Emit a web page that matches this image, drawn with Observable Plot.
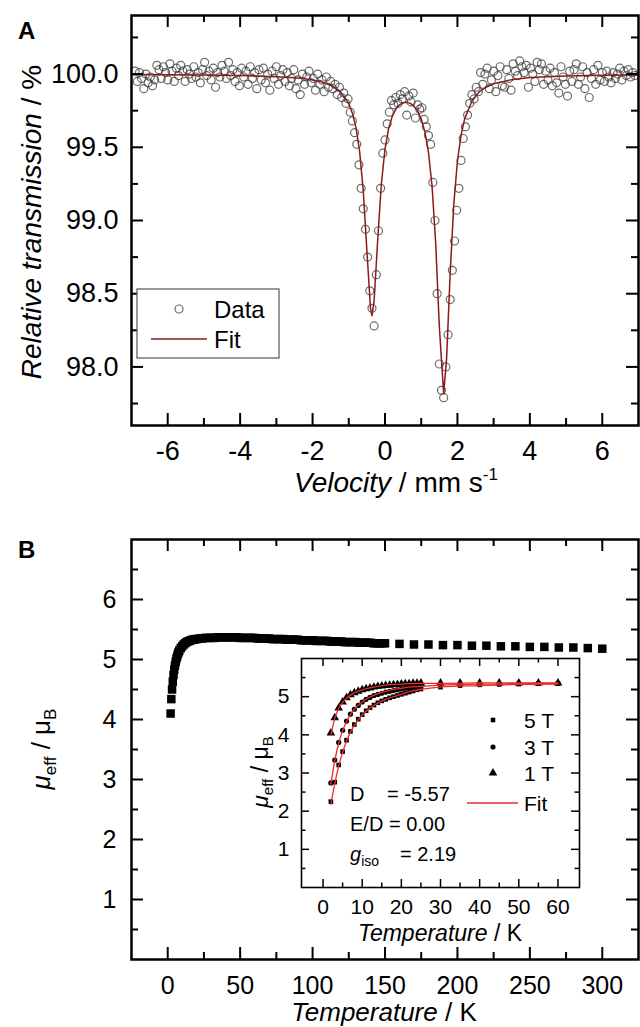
<!DOCTYPE html>
<html><head><meta charset="utf-8">
<script src="https://cdn.jsdelivr.net/npm/d3@7"></script>
<script src="https://cdn.jsdelivr.net/npm/@observablehq/plot@0.6"></script>
<style>
body{margin:0;background:#fff;}
#wrap{position:relative;width:640px;height:1027px;overflow:hidden;}
#wrap svg{position:absolute;left:0;}
</style></head><body><div id="wrap"></div>
<script>
const FONT = "Liberation Sans, Arial, sans-serif";

// ---------- Panel A: Mössbauer spectrum ----------
const velocity = [
-6.90,-6.84,-6.78,-6.72,-6.66,-6.60,-6.54,-6.48,-6.42,-6.36,
-6.30,-6.24,-6.18,-6.12,-6.06,-6.00,-5.94,-5.88,-5.82,-5.76,
-5.70,-5.64,-5.58,-5.52,-5.46,-5.40,-5.34,-5.28,-5.22,-5.16,
-5.10,-5.04,-4.98,-4.92,-4.86,-4.80,-4.74,-4.68,-4.62,-4.56,
-4.50,-4.44,-4.38,-4.32,-4.26,-4.20,-4.14,-4.08,-4.02,-3.96,
-3.90,-3.84,-3.78,-3.72,-3.66,-3.60,-3.54,-3.48,-3.42,-3.36,
-3.30,-3.24,-3.18,-3.12,-3.06,-3.00,-2.94,-2.88,-2.82,-2.76,
-2.70,-2.64,-2.58,-2.52,-2.46,-2.40,-2.34,-2.28,-2.22,-2.16,
-2.10,-2.04,-1.98,-1.92,-1.86,-1.80,-1.74,-1.68,-1.62,-1.56,
-1.50,-1.44,-1.38,-1.32,-1.26,-1.20,-1.14,-1.08,-1.02,-0.96,
-0.90,-0.84,-0.78,-0.72,-0.66,-0.60,-0.54,-0.48,-0.42,-0.36,
-0.30,-0.24,-0.18,-0.12,-0.06,0.00,0.06,0.12,0.18,0.24,
0.30,0.36,0.42,0.48,0.54,0.60,0.66,0.72,0.78,0.84,
0.90,0.96,1.02,1.08,1.14,1.20,1.26,1.32,1.38,1.44,
1.50,1.56,1.62,1.68,1.74,1.80,1.86,1.92,1.98,2.04,
2.10,2.16,2.22,2.28,2.34,2.40,2.46,2.52,2.58,2.64,
2.70,2.76,2.82,2.88,2.94,3.00,3.06,3.12,3.18,3.24,
3.30,3.36,3.42,3.48,3.54,3.60,3.66,3.72,3.78,3.84,
3.90,3.96,4.02,4.08,4.14,4.20,4.26,4.32,4.38,4.44,
4.50,4.56,4.62,4.68,4.74,4.80,4.86,4.92,4.98,5.04,
5.10,5.16,5.22,5.28,5.34,5.40,5.46,5.52,5.58,5.64,
5.70,5.76,5.82,5.88,5.94,6.00,6.06,6.12,6.18,6.24,
6.30,6.36,6.42,6.48,6.54,6.60,6.66,6.72,6.78,6.84,
6.90];
const transmission = [
100.02,99.95,100.01,99.97,99.90,100.00,99.94,99.98,99.92,99.96,
100.06,100.03,99.97,100.05,100.01,99.96,100.07,100.02,99.95,100.04,
99.99,100.06,100.02,99.95,100.03,100.00,99.97,100.05,99.98,100.01,
99.94,100.03,100.08,99.99,100.02,99.96,100.04,99.91,100.01,99.98,
100.06,100.02,99.97,100.08,99.99,100.03,99.95,100.01,99.92,100.04,
99.98,100.02,99.93,100.05,99.97,100.01,99.90,100.03,99.96,100.04,
99.94,100.00,99.89,100.02,99.97,100.05,99.93,99.99,100.03,99.95,
100.01,99.92,99.97,100.03,99.90,99.96,99.86,100.00,99.93,99.98,
100.02,99.94,99.97,99.89,100.00,99.93,99.96,99.88,99.98,99.91,
99.95,99.90,99.93,99.86,99.91,99.84,99.87,99.80,99.83,99.74,
99.68,99.60,99.52,99.38,99.22,99.08,98.94,98.75,98.52,98.40,
98.28,98.63,98.93,99.22,99.46,99.55,99.66,99.74,99.82,99.79,
99.84,99.80,99.86,99.83,99.88,99.72,99.85,99.81,99.87,99.70,
99.79,99.76,99.77,99.69,99.64,99.58,99.52,99.26,99.00,98.50,
98.02,97.84,97.79,98.00,98.22,98.46,98.66,98.86,99.07,99.22,
99.41,99.56,99.64,99.72,99.80,99.86,99.83,99.91,99.88,100.01,
99.93,100.00,100.04,99.90,99.96,100.02,99.88,99.99,100.05,99.92,
99.91,100.03,99.97,99.89,100.07,100.02,99.99,100.09,100.05,100.01,
100.06,99.91,100.04,100.00,99.95,100.08,100.03,100.07,99.93,100.02,
99.96,100.04,99.92,100.01,99.94,99.87,100.05,99.98,99.93,99.85,
100.02,99.95,100.03,100.07,99.93,99.98,100.05,99.90,100.01,99.84,
99.97,100.03,99.93,100.06,99.96,100.01,99.95,100.02,99.98,99.94,
100.01,99.97,100.00,100.04,99.96,100.02,99.99,100.03,99.98,100.01,
99.99];
const fitVelocity = [-7,-6,-5,-4,-3,-2.5,-2.25,-2,-1.75,-1.5,-1.25,-1,-0.9,-0.8,-0.7,-0.6,-0.5,-0.4,-0.36,-0.3,-0.2,-0.1,0,0.1,0.2,0.3,0.4,0.5,0.6,0.7,0.8,0.9,1.0,1.1,1.2,1.3,1.4,1.5,1.62,1.7,1.8,1.9,2.0,2.1,2.2,2.4,2.6,2.8,3.0,3.5,4,5,6,7];
const fitTransmission = [99.997,99.995,99.993,99.990,99.982,99.975,99.969,99.960,99.947,99.925,99.885,99.798,99.733,99.633,99.470,99.202,98.793,98.400,98.351,98.453,98.874,99.251,99.488,99.628,99.711,99.761,99.790,99.804,99.807,99.800,99.781,99.748,99.694,99.607,99.467,99.234,98.845,98.278,97.818,98.053,98.642,99.113,99.406,99.583,99.694,99.816,99.878,99.912,99.934,99.962,99.976,99.987,99.992,99.994];
const xTicksA = [-6,-4,-2,0,2,4,6];
const xMinorA = [-5,-3,-1,1,3,5];
const yTicksA = [98.0,98.5,99.0,99.5,100.0];
const yMinorA = [97.75,98.25,98.75,99.25,99.75,100.25];

// ---------- Panel B: mu_eff vs T ----------
const tempB = [2,2.5,3,3.5,4,4.5,5,5.5,6,6.5,7,7.5,8,9,10,11,12,13,14,15,16,17,18,19,20,22,24,26,28,30,32,34,36,38,40,42,44,46,48,50,52,54,56,58,60,62,64,66,68,70,72,74,76,78,80,82,84,86,88,90,92,94,96,98,100,102,104,106,108,110,112,114,116,118,120,122,124,126,128,130,132,134,136,138,140,142,144,146,148,150,160,170,180,190,200,210,220,230,240,250,260,270,280,290,300];
const muB = [4.10,4.34,4.50,4.63,4.74,4.83,4.90,4.96,5.01,5.05,5.09,5.12,5.15,5.19,5.22,5.25,5.27,5.29,5.30,5.31,5.32,5.33,5.33,5.34,5.34,5.35,5.35,5.36,5.36,5.36,5.36,5.37,5.37,5.37,5.37,5.37,5.37,5.37,5.37,5.36,5.36,5.36,5.36,5.36,5.36,5.35,5.35,5.35,5.35,5.35,5.34,5.34,5.34,5.34,5.34,5.33,5.33,5.33,5.33,5.33,5.32,5.32,5.32,5.32,5.32,5.31,5.31,5.31,5.31,5.31,5.30,5.30,5.30,5.30,5.30,5.29,5.29,5.29,5.29,5.29,5.28,5.28,5.28,5.28,5.28,5.27,5.27,5.27,5.27,5.27,5.26,5.25,5.25,5.24,5.24,5.23,5.23,5.22,5.22,5.21,5.21,5.20,5.20,5.19,5.18];
const xTicksB = [0,50,100,150,200,250,300];
const xMinorB = [25,75,125,175,225,275];
const yTicksB = [1,2,3,4,5,6];
const yMinorB = [0.5,1.5,2.5,3.5,4.5,5.5,6.5];

// ---------- Inset ----------
const tempInset = [2,3,4,5,6,7,8,9,10,11,12,13,14,15,16,17,18,19,20,21,22,23,24,25,30,35,40,45,50,55,60];
const mu5T = [2.25,2.76,3.21,3.56,3.86,4.09,4.27,4.41,4.53,4.63,4.71,4.78,4.84,4.89,4.93,4.97,5.00,5.03,5.06,5.09,5.12,5.15,5.18,5.20,5.25,5.29,5.31,5.32,5.33,5.34,5.34];
const mu3T = [2.74,3.34,3.80,4.12,4.36,4.54,4.67,4.77,4.86,4.93,4.98,5.03,5.06,5.09,5.12,5.14,5.16,5.18,5.20,5.22,5.23,5.25,5.26,5.27,5.30,5.32,5.33,5.34,5.35,5.35,5.35];
const mu1T = [4.05,4.45,4.70,4.86,4.97,5.05,5.10,5.14,5.18,5.21,5.23,5.25,5.27,5.28,5.29,5.30,5.31,5.32,5.33,5.34,5.34,5.35,5.35,5.36,5.36,5.36,5.36,5.36,5.36,5.36,5.36];
const tempFit = [2,3,4,5,6,7,8,10,12,14,16,18,20,22,25,30,40,50,60];
const fit5T = [2.18,2.72,3.18,3.54,3.84,4.07,4.25,4.52,4.70,4.83,4.93,5.00,5.06,5.13,5.19,5.25,5.29,5.32,5.33];
const fit3T = [2.70,3.32,3.78,4.11,4.35,4.53,4.67,4.86,4.99,5.08,5.14,5.19,5.22,5.25,5.27,5.30,5.33,5.34,5.35];
const fit1T = [3.98,4.43,4.69,4.85,4.96,5.04,5.10,5.18,5.23,5.27,5.30,5.32,5.33,5.34,5.35,5.35,5.36,5.36,5.36];
const xTicksIn = [0,10,20,30,40,50,60];
const xMinorIn = [5,15,25,35,45,55];
const yTicksIn = [1,2,3,4,5];
const yMinorIn = [0.5,1.5,2.5,3.5,4.5,5.5];
const fieldLabels = ["5 T","3 T","1 T"];
const fitParams = ["= -5.57","E/D = 0.00","= 2.19"];

// ---------- helpers ----------
function boxTicks(xs, ys, fw, fh, len, sw) {
  return [
    Plot.tickX(xs, {x: d => d, insetTop: fh - len, stroke: "#000", strokeWidth: sw}),
    Plot.tickX(xs, {x: d => d, insetBottom: fh - len, stroke: "#000", strokeWidth: sw}),
    Plot.tickY(ys, {y: d => d, insetRight: fw - len, stroke: "#000", strokeWidth: sw}),
    Plot.tickY(ys, {y: d => d, insetLeft: fw - len, stroke: "#000", strokeWidth: sw})
  ];
}
function txt(sel, x, y, size, opts = {}) {
  const t = sel.append("text").attr("x", x).attr("y", y)
    .style("font-family", FONT).style("font-size", size + "px").attr("fill", "#000")
    .attr("text-anchor", opts.anchor || "start");
  if (opts.rotate) t.attr("x", 0).attr("y", 0).attr("transform", `translate(${x},${y}) rotate(-90)`);
  if (opts.bold) t.style("font-weight", "bold");
  return t;
}
function span(t, s, o = {}) {
  const p = t.append("tspan").text(s);
  if (o.italic) p.style("font-style", "italic");
  if (o.size) p.style("font-size", o.size + "px");
  if (o.dy) p.attr("dy", o.dy);
  return p;
}
const wrap = document.getElementById("wrap");

// ---------- Plot A ----------
const mA = {l: 131, r: 2, t: 15, b: 75}, WA = 640, HA = 500;
const fwA = WA - mA.l - mA.r, fhA = HA - mA.t - mA.b;
const dataA = velocity.map((v, i) => ({v, t: transmission[i]}));
const fitA = fitVelocity.map((v, i) => ({v, t: fitTransmission[i]}));
const plotA = Plot.plot({
  width: WA, height: HA, marginLeft: mA.l, marginRight: mA.r, marginTop: mA.t, marginBottom: mA.b,
  x: {domain: [-7, 7], label: null},
  y: {domain: [97.6, 100.4], label: null},
  style: {fontFamily: FONT, fontSize: "27px", color: "#000", background: "white"},
  marks: [
    Plot.dot(dataA, {x: "v", y: "t", r: 4, stroke: "#3a3a3a", strokeOpacity: 0.75, strokeWidth: 1.2, fill: "none"}),
    Plot.line(fitA, {x: "v", y: "t", stroke: "#8b1a1a", strokeWidth: 1.5}),
    ...boxTicks(xTicksA, yTicksA, fwA, fhA, 12, 2),
    ...boxTicks(xMinorA, yMinorA, fwA, fhA, 7, 2),
    Plot.frame({stroke: "#000", strokeWidth: 2.5}),
    Plot.axisX(xTicksA, {tickSize: 0, tickPadding: 15, fontSize: 27, label: null, tickFormat: d => String(d)}),
    Plot.axisY(yTicksA, {tickSize: 0, tickPadding: 13, fontSize: 27, label: null, tickFormat: d => d.toFixed(1)})
  ]
});
plotA.style.top = "0px";
wrap.appendChild(plotA);
{
  const s = d3.select(plotA);
  txt(s, 18, 39, 24, {bold: true}).text("A");
  const xt = txt(s, 396, 492, 28, {anchor: "middle"});
  span(xt, "Velocity", {italic: true}); span(xt, " / mm s"); span(xt, "-1", {size: 17, dy: -12});
  const yt = txt(s, 41, 222, 28, {anchor: "middle", rotate: true});
  span(yt, "Relative transmission", {italic: true}); span(yt, " / %");
  s.append("rect").attr("x", 137).attr("y", 289).attr("width", 142).attr("height", 69)
    .attr("fill", "white").attr("stroke", "#555").attr("stroke-width", 1.2);
  s.append("circle").attr("cx", 179).attr("cy", 309).attr("r", 4).attr("fill", "none")
    .attr("stroke", "#3a3a3a").attr("stroke-opacity", 0.75).attr("stroke-width", 1.2);
  txt(s, 214, 318, 24).text("Data");
  s.append("line").attr("x1", 151).attr("x2", 207).attr("y1", 339).attr("y2", 339)
    .attr("stroke", "#8b1a1a").attr("stroke-width", 1.5);
  txt(s, 214, 348, 24).text("Fit");
}

// ---------- Plot B ----------
const mB = {l: 131, r: 2, t: 39, b: 68}, WB = 640, HB = 527;
const fwB = WB - mB.l - mB.r, fhB = HB - mB.t - mB.b;
const dataB = tempB.map((T, i) => ({T, mu: muB[i]}));
const plotB = Plot.plot({
  width: WB, height: HB, marginLeft: mB.l, marginRight: mB.r, marginTop: mB.t, marginBottom: mB.b,
  x: {domain: [-25, 325], label: null},
  y: {domain: [0, 7], label: null},
  style: {fontFamily: FONT, fontSize: "25px", color: "#000", background: "white"},
  marks: [
    Plot.dot(dataB, {x: "T", y: "mu", symbol: "square", r: 4.8, fill: "#000", stroke: "none"}),
    ...boxTicks(xTicksB, yTicksB, fwB, fhB, 12, 2),
    ...boxTicks(xMinorB, yMinorB, fwB, fhB, 7, 2),
    Plot.frame({stroke: "#000", strokeWidth: 2.5}),
    Plot.axisX(xTicksB, {tickSize: 0, tickPadding: 17, fontSize: 25, label: null, tickFormat: d => String(d)}),
    Plot.axisY(yTicksB, {tickSize: 0, tickPadding: 15, fontSize: 25, label: null, tickFormat: d => String(d)})
  ]
});
plotB.style.top = "500px";
wrap.appendChild(plotB);
{
  const s = d3.select(plotB);
  txt(s, 18, 58, 24, {bold: true}).text("B");
  const xt = txt(s, 384, 521, 26, {anchor: "middle"});
  span(xt, "Temperature", {italic: true}); span(xt, " / K");
  const yt = txt(s, 50, 249, 26, {anchor: "middle", rotate: true});
  span(yt, "μ", {italic: true}); span(yt, "eff", {size: 17, dy: 6}); span(yt, " / μ", {dy: -6}); span(yt, "B", {size: 17, dy: 6});
}

// ---------- Inset ----------
const mI = {l: 301, r: 61, t: 158, b: 140}, WI = 640, HI = 527;
const fwI = WI - mI.l - mI.r, fhI = HI - mI.t - mI.b;
const rows = (arr) => tempInset.map((T, i) => ({T, mu: arr[i]}));
const frows = (arr) => tempFit.map((T, i) => ({T, mu: arr[i]}));
const RED = "#ee2a2a";
const plotI = Plot.plot({
  width: WI, height: HI, marginLeft: mI.l, marginRight: mI.r, marginTop: mI.t, marginBottom: mI.b,
  x: {domain: [-5.5, 65.5], label: null},
  y: {domain: [0, 6], label: null},
  style: {fontFamily: FONT, fontSize: "21px", color: "#000", background: "transparent"},
  marks: [
    Plot.dot(rows(mu5T), {x: "T", y: "mu", symbol: "square", r: 2.6, fill: "#000", stroke: "none"}),
    Plot.dot(rows(mu3T), {x: "T", y: "mu", symbol: "circle", r: 2.6, fill: "#000", stroke: "none"}),
    Plot.dot(rows(mu1T), {x: "T", y: "mu", symbol: "triangle", r: 3.2, fill: "#000", stroke: "none"}),
    Plot.line(frows(fit5T), {x: "T", y: "mu", stroke: RED, strokeWidth: 1.3, curve: "monotone-x"}),
    Plot.line(frows(fit3T), {x: "T", y: "mu", stroke: RED, strokeWidth: 1.3, curve: "monotone-x"}),
    Plot.line(frows(fit1T), {x: "T", y: "mu", stroke: RED, strokeWidth: 1.3, curve: "monotone-x"}),
    ...boxTicks(xTicksIn, yTicksIn, fwI, fhI, 8, 1.5),
    ...boxTicks(xMinorIn, yMinorIn, fwI, fhI, 4.5, 1.5),
    Plot.frame({stroke: "#000", strokeWidth: 1.6}),
    Plot.axisX(xTicksIn, {tickSize: 0, tickPadding: 12, fontSize: 21, label: null, tickFormat: d => String(d)}),
    Plot.axisY(yTicksIn, {tickSize: 0, tickPadding: 12, fontSize: 21, label: null, tickFormat: d => String(d)})
  ]
});
plotI.style.top = "500px";
wrap.appendChild(plotI);
{
  const s = d3.select(plotI);
  const xt = txt(s, 440, 441, 23, {anchor: "middle"});
  span(xt, "Temperature", {italic: true}); span(xt, " / K");
  const yt = txt(s, 268, 272, 23, {anchor: "middle", rotate: true});
  span(yt, "μ", {italic: true}); span(yt, "eff", {size: 15, dy: 5}); span(yt, " / μ", {dy: -5}); span(yt, "B", {size: 15, dy: 5});
  const syms = [d3.symbolSquare, d3.symbolCircle, d3.symbolTriangle];
  const sizes = [21, 21, 32];
  const ly = [220, 247, 273];
  fieldLabels.forEach((lab, i) => {
    s.append("path").attr("d", d3.symbol(syms[i], sizes[i])()).attr("transform", `translate(493,${ly[i]})`).attr("fill", "#000");
    txt(s, 524, ly[i] + 7.5, 21).text(lab);
  });
  s.append("line").attr("x1", 467).attr("x2", 518).attr("y1", 303).attr("y2", 303).attr("stroke", RED).attr("stroke-width", 1.5);
  txt(s, 524, 310.5, 21).text("Fit");
  txt(s, 350, 300.5, 20).text("D");
  txt(s, 387, 300.5, 20).text(fitParams[0]);
  txt(s, 350, 330.5, 20).text(fitParams[1]);
  const g = txt(s, 350, 360.5, 20);
  span(g, "g", {italic: true}); span(g, "iso", {size: 14, dy: 5});
  txt(s, 400, 360.5, 20).text(fitParams[2]);
}
</script></body></html>
